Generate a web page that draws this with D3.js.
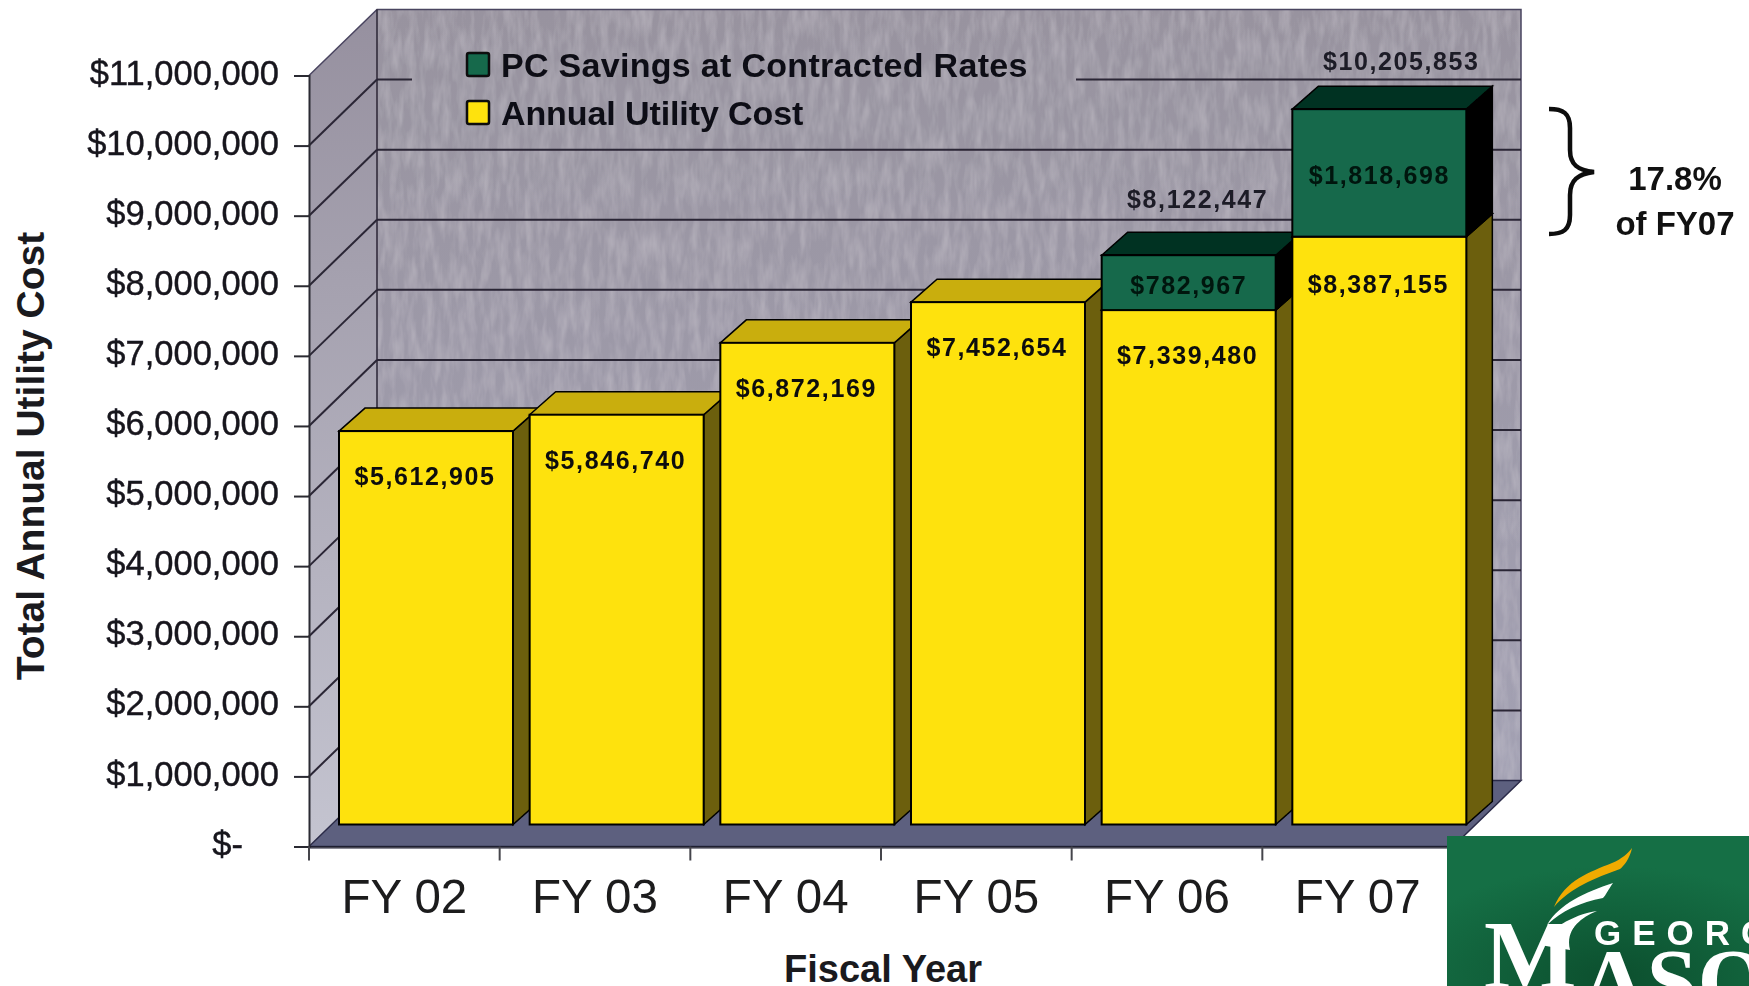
<!DOCTYPE html>
<html lang="en">
<head>
<meta charset="UTF-8">
<title>Total Annual Utility Cost</title>
<script src="https://cdn.jsdelivr.net/npm/d3@7"></script>
<style>
    html, body { margin: 0; background: #fff; overflow: hidden; }
    text { font-family: "Liberation Sans", Arial, sans-serif; }
</style>
</head>
<body>
<script>
// data
var categories = ["FY 02", "FY 03", "FY 04", "FY 05", "FY 06", "FY 07"];
var utilityCost = [5612905, 5846740, 6872169, 7452654, 7339480, 8387155];
var pcSavings = [0, 0, 0, 0, 782967, 1818698];
var yTicks = [0, 1e6, 2e6, 3e6, 4e6, 5e6, 6e6, 7e6, 8e6, 9e6, 10e6, 11e6];
var legendLabels = ["PC Savings at Contracted Rates", "Annual Utility Cost"];

var width = 1749, height = 986;
var svg = d3.select("body").append("svg").attr("width", width).attr("height", height);
var defs = svg.append("defs");

// the original is a soft scan, so a bit of grain and blur
var grain = defs.append("filter").attr("id", "grain").attr("x", 0).attr("y", 0).attr("width", 1).attr("height", 1);
grain.append("feTurbulence").attr("type", "fractalNoise").attr("baseFrequency", "0.12 0.03").attr("numOctaves", 3).attr("seed", 4).attr("result", "n");
grain.append("feColorMatrix").attr("in", "n").attr("type", "matrix")
    .attr("values", "0 0 0 0 0.72  0 0 0 0 0.69  0 0 0 0 0.74  0.55 0 0 0 -0.2").attr("result", "c");
grain.append("feMerge").selectAll("feMergeNode").data(["SourceGraphic", "c"]).enter()
    .append("feMergeNode").attr("in", function(d){ return d; });
defs.append("filter").attr("id", "soft").append("feGaussianBlur").attr("stdDeviation", 0.6);

var wallGrad = defs.append("linearGradient").attr("id", "wallGrad").attr("x1", 0).attr("x2", 0).attr("y1", 0).attr("y2", 1);
wallGrad.append("stop").attr("offset", "0").attr("stop-color", "#98939f");
wallGrad.append("stop").attr("offset", "1").attr("stop-color", "#a3a1b3");
var sideGrad = defs.append("linearGradient").attr("id", "sideGrad").attr("x1", 0).attr("x2", 0).attr("y1", 0).attr("y2", 1);
sideGrad.append("stop").attr("offset", "0").attr("stop-color", "#96909f");
sideGrad.append("stop").attr("offset", "1").attr("stop-color", "#c4c4d0");
var logoGrad = defs.append("radialGradient").attr("id", "logoGrad").attr("cx", 0.55).attr("cy", 0.95).attr("r", 0.75);
logoGrad.append("stop").attr("offset", "0").attr("stop-color", "#0c4f2e");
logoGrad.append("stop").attr("offset", "1").attr("stop-color", "#156f45");

// scales
var x = d3.scaleBand().domain(categories).range([309, 1453]);
var y = d3.scaleLinear().domain([0, 11e6]).range([846.5, 75.5]);

// depth of the 3d box
var wallDx = 68, wallDy = 66;
var barDx = 26, barDy = 23, barLift = 22, barInset = 30, barWidth = 174;

var chart = svg.append("g").attr("filter", "url(#soft)");

function poly(pts) { return "M" + pts.map(function(p){ return p.join(","); }).join("L") + "Z"; }

var x0 = x.range()[0], x1 = x.range()[1], y0 = y(0), yTop = y(11e6);
var lineColor = "#2a2535";

// back wall, side wall, floor
chart.append("path").attr("filter", "url(#grain)").attr("fill", "url(#wallGrad)")
    .attr("d", poly([[x0 + wallDx, yTop - wallDy], [x1 + wallDx, yTop - wallDy], [x1 + wallDx, y0 - wallDy], [x0 + wallDx, y0 - wallDy]]));
chart.append("path").attr("fill", "url(#sideGrad)")
    .attr("d", poly([[x0, yTop], [x0 + wallDx, yTop - wallDy], [x0 + wallDx, y0 - wallDy], [x0, y0]]));
chart.append("path").attr("fill", "#5d607f").attr("stroke", "#2c2c48").attr("stroke-width", 1.5)
    .attr("d", poly([[x0, y0], [x0 + wallDx, y0 - wallDy], [x1 + wallDx, y0 - wallDy], [x1, y0]]));
chart.append("path").attr("fill", "none").attr("stroke", "#4a4560").attr("stroke-width", 1.5)
    .attr("d", "M" + x0 + "," + yTop + "L" + (x0 + wallDx) + "," + (yTop - wallDy) + "H" + (x1 + wallDx) + "V" + (y0 - wallDy));
chart.append("line").attr("x1", x0 + wallDx).attr("x2", x0 + wallDx).attr("y1", yTop - wallDy).attr("y2", y0 - wallDy)
    .attr("stroke", lineColor).attr("stroke-width", 1.5);

// gridlines on the walls, the top one has a gap behind the legend
var gridTicks = yTicks.filter(function(t){ return t > 0 && t < 11e6; });
chart.selectAll(".grid").data(gridTicks).enter().append("line").attr("class", "grid")
    .attr("x1", x0 + wallDx).attr("x2", x1 + wallDx)
    .attr("y1", function(d){ return y(d) - wallDy; }).attr("y2", function(d){ return y(d) - wallDy; })
    .attr("stroke", lineColor).attr("stroke-width", 2)
    .attr("stroke-dasharray", function(d){ return d == 10e6 ? "35 664 2000" : null; });
chart.selectAll(".gridSide").data(gridTicks).enter().append("line").attr("class", "gridSide")
    .attr("x1", x0).attr("x2", x0 + wallDx)
    .attr("y1", function(d){ return y(d); }).attr("y2", function(d){ return y(d) - wallDy; })
    .attr("stroke", lineColor).attr("stroke-width", 2);

// 3d bars, left to right so each one covers the side of the previous one
function box(g, left, top, bottom, front, side, roof) {
    var right = left + barWidth;
    g.append("path").attr("fill", side).attr("stroke", "#000").attr("stroke-width", 1.5)
        .attr("d", poly([[right, top], [right + barDx, top - barDy], [right + barDx, bottom - barDy], [right, bottom]]));
    g.append("path").attr("fill", roof).attr("stroke", "#000").attr("stroke-width", 1.5)
        .attr("d", poly([[left, top], [left + barDx, top - barDy], [right + barDx, top - barDy], [right, top]]));
    g.append("rect").attr("x", left).attr("y", top).attr("width", barWidth).attr("height", bottom - top)
        .attr("fill", front).attr("stroke", "#000").attr("stroke-width", 2);
}

var bars = chart.selectAll(".bar").data(categories).enter().append("g").attr("class", "bar");
bars.each(function(c, i) {
    var g = d3.select(this);
    var left = x(c) + barInset;
    var total = utilityCost[i] + pcSavings[i];
    box(g, left, y(utilityCost[i]) - barLift, y(0) - barLift, "#fee20a", "#6c5f08", "#c9ae10");
    if (pcSavings[i] > 0) {
        box(g, left, y(total) - barLift, y(utilityCost[i]) - barLift, "#13694c", "#000", "#053222");
    }
});

// value labels
var money = d3.format("$,");
function valueLabel(px, py, value, color) {
    labels.append("text").attr("x", px).attr("y", py).text(money(value))
        .attr("text-anchor", "middle").attr("font-weight", "bold").attr("font-size", 25)
        .attr("letter-spacing", 1.6).attr("fill", color);
}
var labels = svg.append("g").attr("filter", "url(#soft)");
categories.forEach(function(c, i) {
    var mid = x(c) + barInset + barWidth / 2;
    var top = y(utilityCost[i]) - barLift;
    valueLabel(mid - 1, top + (i == 5 ? 56 : 54), utilityCost[i], "#0c0c10");
    if (pcSavings[i] > 0) {
        var total = utilityCost[i] + pcSavings[i];
        var topTotal = y(total) - barLift;
        valueLabel(mid, (top + topTotal) / 2 + 11, pcSavings[i], "#03140f");
        // the two totals float above the bars, not quite centred
        valueLabel(mid + (i == 5 ? 22 : 9), topTotal - barDy - (i == 5 ? 16 : 24), total, "#1c1a26");
    }
});

// axes
var axisY = d3.axisLeft(y).tickValues(yTicks).tickSize(15).tickPadding(15)
    .tickFormat(function(d){ return d == 0 ? "$-" : money(d); });
var gy = svg.append("g").attr("filter", "url(#soft)").attr("transform", "translate(" + x0 + ",0)").call(axisY);
gy.selectAll("text").attr("font-size", 34.5).attr("fill", "#16141c").attr("dy", "0.25em")
    .attr("stroke", "#16141c").attr("stroke-width", 0.4)
    .style("font-family", "'Liberation Sans', Arial, sans-serif");
// the zero label keeps the accounting format gap on its right
gy.selectAll("text").filter(function(d){ return d == 0; }).attr("dx", -36);
gy.selectAll("line, path").attr("stroke", "#2a2a30").attr("stroke-width", 2);

var axisX = d3.axisBottom(x).tickSize(0).tickPadding(33);
var gx = svg.append("g").attr("filter", "url(#soft)").attr("transform", "translate(0," + y0 + ")").call(axisX);
gx.select(".domain").attr("stroke", "#1c1c28").attr("stroke-width", 2);
gx.selectAll("text").attr("font-size", 47.5).attr("fill", "#1a1a1e")
    .style("font-family", "'Liberation Sans', Arial, sans-serif");
// tick marks go between the categories
gx.selectAll(".edge").data(categories.concat("end")).enter().append("line").attr("class", "edge")
    .attr("x1", function(d, i){ return x0 + i * x.bandwidth(); })
    .attr("x2", function(d, i){ return x0 + i * x.bandwidth(); })
    .attr("y1", 0).attr("y2", 14).attr("stroke", "#44444c").attr("stroke-width", 2);

// axis titles
svg.append("text").attr("x", 883).attr("y", 982).attr("text-anchor", "middle")
    .attr("font-weight", "bold").attr("font-size", 38).attr("fill", "#1a1a1e").text("Fiscal Year");
svg.append("text").attr("transform", "translate(44,456) rotate(-90)").attr("text-anchor", "middle")
    .attr("font-weight", "bold").attr("font-size", 39).attr("fill", "#1a1a1e").text("Total Annual Utility Cost");

// legend
var legendColors = ["#13694c", "#fee20a"];
var legend = svg.append("g").attr("filter", "url(#soft)");
legendLabels.forEach(function(t, i) {
    var ly = 53 + i * 48;
    legend.append("rect").attr("x", 467).attr("y", ly).attr("width", 22).attr("height", 23).attr("rx", 2)
        .attr("fill", legendColors[i]).attr("stroke", "#0a0a0a").attr("stroke-width", 2.5);
    legend.append("text").attr("x", 501).attr("y", ly + 24).attr("font-weight", "bold").attr("font-size", 34)
        .attr("letter-spacing", i == 0 ? 0.3 : -0.1).attr("fill", "#0d0d14").text(t);
});

// brace + note on the right
svg.append("path").attr("fill", "none").attr("stroke", "#0a0a0a").attr("stroke-width", 4.5).attr("filter", "url(#soft)")
    .attr("d", "M1549,109 C1563,109 1570,113 1570,128 L1570,150 C1570,165 1578,170 1594,172 C1578,174 1570,180 1570,195 L1570,215 C1570,230 1563,234 1549,234");
svg.append("text").attr("x", 1675).attr("y", 190).attr("text-anchor", "middle")
    .attr("font-weight", "bold").attr("font-size", 33).attr("fill", "#111").text("17.8%");
svg.append("text").attr("x", 1675).attr("y", 235).attr("text-anchor", "middle")
    .attr("font-weight", "bold").attr("font-size", 33).attr("fill", "#111").text("of FY07");

// logo in the corner, cut off by the page edge
var logo = svg.append("g");
logo.append("rect").attr("x", 1447).attr("y", 836).attr("width", 302).attr("height", 150).attr("fill", "url(#logoGrad)");
logo.append("path").attr("fill", "#f0ab00").attr("d", "M1554,907 C1565,880 1590,872 1612,863 C1622,859 1628,853 1632,848 C1630,858 1624,866 1620,869 C1595,878 1570,888 1554,907Z");
logo.append("path").attr("fill", "#fff").attr("d", "M1547,925 C1558,905 1585,892 1613,883 C1608,890 1606,895 1603,898 C1580,902 1560,912 1547,925Z");
logo.append("path").attr("fill", "#fff").attr("d", "M1540,945 C1550,928 1575,914 1597,911 C1580,918 1565,930 1570,950Z");
logo.append("text").attr("x", 1594).attr("y", 945).attr("font-weight", "bold").attr("font-size", 35)
    .attr("letter-spacing", 11).attr("fill", "#fff").text("GEORG");
logo.append("text").attr("x", 1484).attr("y", 988).attr("font-size", 98).attr("font-weight", "bold")
    .style("font-family", "'Liberation Serif', serif").attr("fill", "#fff").text("M");
logo.append("text").attr("x", 1580).attr("y", 1012).attr("font-size", 92).attr("font-weight", "bold")
    .style("font-family", "'Liberation Serif', serif").attr("fill", "#fff").text("ASON");
</script>
</body>
</html>
